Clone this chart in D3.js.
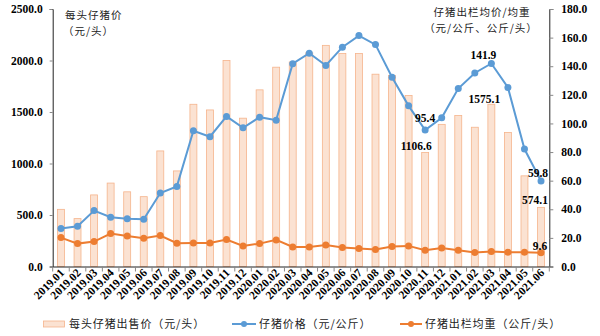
<!DOCTYPE html>
<html>
<head>
<meta charset="utf-8">
<script src="https://cdn.jsdelivr.net/npm/d3@7"></script>
<style>
  html, body { margin: 0; padding: 0; background: #fff; }
  svg { display: block; }
  .num { font-family: "Liberation Serif", "Times New Roman", serif; font-weight: bold; fill: #000; }
  .cjk { font-family: "Noto Sans CJK SC", sans-serif; fill: #222; }
</style>
</head>
<body>
<svg id="chart" width="600" height="336"></svg>
<script>
// Months
const months = [
  "2019.01","2019.02","2019.03","2019.04","2019.05","2019.06","2019.07","2019.08","2019.09","2019.10",
  "2019.11","2019.12","2020.01","2020.02","2020.03","2020.04","2020.05","2020.06","2020.07","2020.08",
  "2020.09","2020.10","2020.11","2020.12","2021.01","2021.02","2021.03","2021.04","2021.05","2021.06"
];
// 每头仔猪出售价（元/头）
const pricePerHead = [
  555, 465, 695, 810, 725, 678, 1122, 928, 1575, 1520,
  2000, 1440, 1715, 1935, 1986, 2075, 2147, 2067, 2067, 1867,
  1855, 1660, 1106.6, 1380, 1467, 1352, 1575.1, 1302, 880, 574.1
];
// 仔猪价格（元/公斤）
const pricePerKg = [
  26.5, 28.1, 39.1, 34.4, 33.3, 33.0, 51.4, 56.0, 94.9, 90.7,
  104.9, 97.0, 104.4, 102.3, 141.8, 149.1, 140.5, 153.3, 161.4, 155.1,
  132.3, 112.3, 95.4, 104.0, 124.4, 135.3, 141.9, 125.1, 82.1, 59.8
];
// 仔猪出栏均重（公斤/头）
const avgWeight = [
  20.2, 16.0, 17.4, 23.0, 21.4, 19.8, 21.6, 16.3, 16.5, 16.5,
  18.8, 14.4, 16.0, 18.6, 13.7, 13.7, 15.1, 13.3, 12.6, 11.9,
  14.0, 14.4, 11.4, 13.0, 11.4, 9.8, 10.5, 10.0, 10.0, 9.6
];
const leftTicks = [0, 500, 1000, 1500, 2000, 2500];
const rightTicks = [0, 20, 40, 60, 80, 100, 120, 140, 160, 180];

const svg = d3.select("#chart");
const plotLeft = 52.7, plotRight = 549.3, plotTop = 9, plotBottom = 266.5;

const x = d3.scaleBand().domain(months).range([plotLeft, plotRight]).paddingInner(0.58).paddingOuter(0.29);
const xb = d3.scaleBand().domain(months).range([plotLeft, plotRight]);
const yL = d3.scaleLinear().domain([0, 2500]).range([plotBottom, plotTop]);
const yR = d3.scaleLinear().domain([0, 180]).range([plotBottom, plotTop]);

const barFill = "#FBE2D2", barStroke = "#F5B48C";
const blue = "#5B9BD5", orange = "#ED7D31";

// bars
svg.append("g").selectAll("rect").data(months).join("rect")
  .attr("x", d => x(d))
  .attr("width", x.bandwidth())
  .attr("y", (d, i) => yL(pricePerHead[i]))
  .attr("height", (d, i) => plotBottom - yL(pricePerHead[i]))
  .attr("fill", barFill)
  .attr("stroke", barStroke)
  .attr("stroke-width", 0.8);

// axes
const axL = svg.append("g").attr("transform", `translate(${plotLeft},0)`)
  .call(d3.axisLeft(yL).tickValues(leftTicks).tickFormat(d3.format(".1f")).tickSize(3).tickPadding(7));
const axR = svg.append("g").attr("transform", `translate(${plotRight},0)`)
  .call(d3.axisRight(yR).tickValues(rightTicks).tickFormat(d3.format(".1f")).tickSize(4).tickPadding(8));
const axX = svg.append("g").attr("transform", `translate(0,${plotBottom})`)
  .call(d3.axisBottom(xb).tickSize(0).tickFormat(""));

[axL, axR].forEach(g => {
  g.select(".domain").attr("stroke", "#222").attr("stroke-width", 1);
  g.selectAll(".tick line").attr("stroke", "#888");
  g.selectAll(".tick text").attr("class", "num").style("font-size", "11.5px");
});
axX.select(".domain").attr("stroke", "#222").attr("stroke-width", 1);

// boundary ticks on the category axis
svg.append("g").selectAll("line").data(d3.range(months.length + 1)).join("line")
  .attr("x1", i => plotLeft + i * xb.step())
  .attr("x2", i => plotLeft + i * xb.step())
  .attr("y1", plotBottom).attr("y2", plotBottom + 5)
  .attr("stroke", "#888").attr("stroke-width", 1);

// rotated month labels
svg.append("g").selectAll("text").data(months).join("text")
  .attr("class", "num")
  .style("font-size", "11.5px")
  .attr("text-anchor", "end")
  .attr("transform", d => `translate(${xb(d) + xb.bandwidth() / 2 + 4},${plotBottom + 7}) rotate(-45)`)
  .text(d => d);

// lines
function drawSeries(values, color) {
  const pts = months.map((m, i) => [xb(m) + xb.bandwidth() / 2, yR(values[i])]);
  svg.append("path").attr("d", d3.line()(pts))
    .attr("fill", "none").attr("stroke", color).attr("stroke-width", 2);
  svg.append("g").selectAll("circle").data(pts).join("circle")
    .attr("cx", d => d[0]).attr("cy", d => d[1]).attr("r", 3.5).attr("fill", color);
}
drawSeries(pricePerKg, blue);
drawSeries(avgWeight, orange);

// value labels
const cx = m => xb(m) + xb.bandwidth() / 2;
const notes = [
  { i: 26, v: pricePerKg[26], s: yR, dx: -8, dy: -5 },
  { i: 26, v: pricePerHead[26], s: yL, dx: -7, dy: -1 },
  { i: 22, v: pricePerKg[22], s: yR, dx: 0, dy: -8 },
  { i: 22, v: pricePerHead[22], s: yL, dx: -9, dy: -3 },
  { i: 29, v: pricePerKg[29], s: yR, dx: -3, dy: -4 },
  { i: 29, v: pricePerHead[29], s: yL, dx: -6, dy: -3 },
  { i: 29, v: avgWeight[29], s: yR, dx: -1, dy: -3 }
];
svg.append("g").selectAll("text").data(notes).join("text")
  .attr("class", "num").style("font-size", "11.5px")
  .attr("text-anchor", "middle")
  .attr("x", d => cx(months[d.i]) + d.dx)
  .attr("y", d => d.s(d.v) + d.dy)
  .text(d => d3.format(".1f")(d.v));

// axis titles
const t1 = svg.append("text").attr("class", "cjk").style("font-size", "10.5px").style("letter-spacing", "1px");
t1.append("tspan").attr("x", 65).attr("y", 19).text("每头仔猪价");
t1.append("tspan").attr("x", 63).attr("y", 35).text("（元/头）");
const t2 = svg.append("text").attr("class", "cjk").style("font-size", "10.5px").style("letter-spacing", "1px").attr("text-anchor", "middle");
t2.append("tspan").attr("x", 482).attr("y", 16).text("仔猪出栏均价/均重");
t2.append("tspan").attr("x", 481).attr("y", 32).text("（元/公斤、公斤/头）");

// legend
const lg = svg.append("g");
lg.append("rect").attr("x", 43.5).attr("y", 321).attr("width", 21).attr("height", 6)
  .attr("fill", barFill).attr("stroke", barStroke).attr("stroke-width", 0.8);
lg.append("text").attr("class", "cjk").style("font-size", "11px").style("letter-spacing", "0.9px")
  .attr("x", 69).attr("y", 328).text("每头仔猪出售价（元/头）");
lg.append("line").attr("x1", 232).attr("x2", 256).attr("y1", 324).attr("y2", 324)
  .attr("stroke", blue).attr("stroke-width", 2);
lg.append("circle").attr("cx", 244).attr("cy", 324).attr("r", 3).attr("fill", blue);
lg.append("text").attr("class", "cjk").style("font-size", "11px").style("letter-spacing", "0.9px")
  .attr("x", 259).attr("y", 328).text("仔猪价格（元/公斤）");
lg.append("line").attr("x1", 400).attr("x2", 422).attr("y1", 324).attr("y2", 324)
  .attr("stroke", orange).attr("stroke-width", 2);
lg.append("circle").attr("cx", 411).attr("cy", 324).attr("r", 3).attr("fill", orange);
lg.append("text").attr("class", "cjk").style("font-size", "11px").style("letter-spacing", "0.9px")
  .attr("x", 425).attr("y", 328).text("仔猪出栏均重（公斤/头）");
</script>
</body>
</html>
